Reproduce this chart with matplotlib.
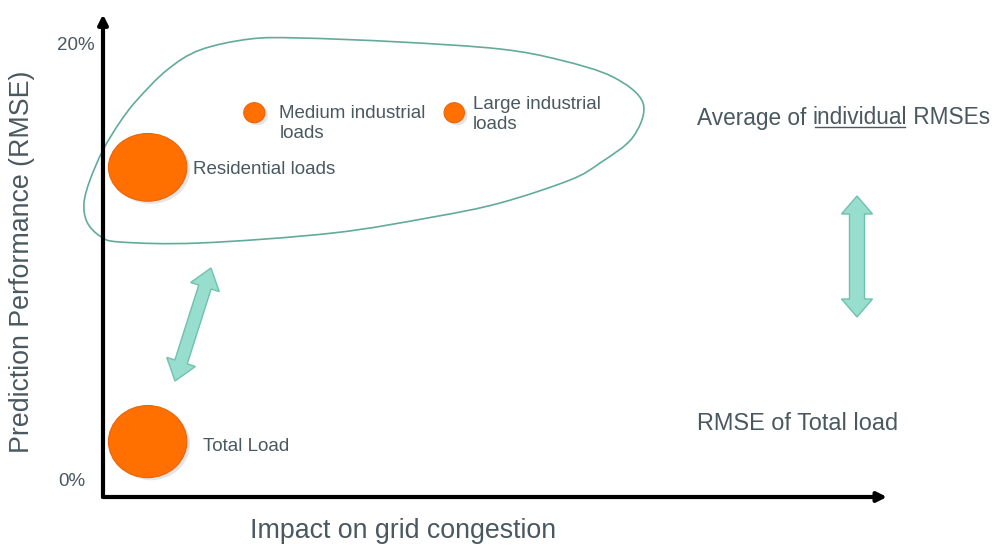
import numpy as np
import matplotlib
matplotlib.use('Agg')
import matplotlib.pyplot as plt
import matplotlib.transforms as mtransforms
from matplotlib.patches import Ellipse, Polygon, PathPatch
from matplotlib.path import Path

plt.rcParams['font.family'] = ['Liberation Sans', 'DejaVu Sans']

# bubbles: impact on grid congestion (arbitrary units 0..10) vs RMSE (%)
loads = ['Residential loads', 'Medium industrial\nloads', 'Large industrial\nloads', 'Total Load']
impact = [0.57, 1.93, 4.48, 0.57]
rmse = [14.4, 16.9, 16.9, 1.85]
y_ticks = [0, 20]
y_tick_labels = ['0%', '20%']

# styling (bubble size in axis units, label offsets in pixels)
bub_w = [1.0, 0.27, 0.26, 1.0]
bub_h = [3.1, 0.92, 0.92, 3.3]
lab_off = [(45, -2), (25, -11), (19, -2), (55, -5)]

TXT = '#4a5860'
ORANGE = '#ff7000'
TEAL = '#98dece'
TEAL_EDGE = '#70c0ae'

W, H = 1005, 548
fig = plt.figure(figsize=(W / 100, H / 100), dpi=100)
ax = fig.add_axes([0, 0, 1, 1])
# pixel origin at (103, 482), 78.4 px per impact unit, 21.85 px per %
ax.set_xlim(-103 / 78.4, (W - 103) / 78.4)
ax.set_ylim((482 - H) / 21.85, 482 / 21.85)
ax.axis('off')

# transform for annotation shapes placed in pixels, top-left origin
px = mtransforms.Affine2D().scale(1 / W, -1 / H).translate(0, 1) + fig.transFigure

# axes arrows
y_axis = -15 / 21.85
ax.annotate('', xy=(0, 21.4), xytext=(0, y_axis),
            arrowprops=dict(arrowstyle='-|>', lw=3, color='black', mutation_scale=14,
                            shrinkA=0, shrinkB=0))
ax.annotate('', xy=(10, y_axis), xytext=(0, y_axis),
            arrowprops=dict(arrowstyle='-|>', lw=3, color='black', mutation_scale=14,
                            shrinkA=0, shrinkB=0))

for v, lab in zip(y_ticks, y_tick_labels):
    ax.annotate(lab, xy=(0, v), xytext=(-8 - (10 if v == 0 else 0), 0),
                textcoords='offset pixels', ha='right', va='center', fontsize=13.5, color=TXT)

ax.text(22 / W, 1 - 262 / H, 'Prediction Performance (RMSE)', transform=fig.transFigure,
        rotation=90, ha='center', va='center', fontsize=19.3, color=TXT)
ax.text(403 / W, 1 - 531 / H, 'Impact on grid congestion', transform=fig.transFigure,
        ha='center', va='center', fontsize=19.3, color=TXT)

# bubbles
for name, x, y, w, h, off in zip(loads, impact, rmse, bub_w, bub_h, lab_off):
    ax.add_patch(Ellipse((x + 0.04, y - 0.12), w, h, color='#999999', alpha=0.25, lw=0))
    ax.add_patch(Ellipse((x, y), w, h, facecolor=ORANGE, edgecolor='#e8650e', lw=0.8))
    ax.annotate(name, xy=(x, y), xytext=off, textcoords='offset pixels',
                ha='left', va='center', fontsize=13.5, color=TXT, linespacing=1.25)

# blob around individual loads
blob = np.array([(84, 203), (90, 180), (103, 150), (120, 122), (137, 100), (167, 70),
                 (200, 50), (250, 39), (300, 38), (400, 42), (500, 49), (560, 60),
                 (613, 77), (643, 103), (633, 137), (600, 163), (570, 180), (500, 203),
                 (433, 217), (333, 233), (200, 243), (120, 242), (100, 236), (87, 222)],
                dtype=float)
n = len(blob)
verts = [blob[0]]
codes = [Path.MOVETO]
for i in range(n):
    p0, p1, p2, p3 = blob[i - 1], blob[i], blob[(i + 1) % n], blob[(i + 2) % n]
    verts += [p1 + (p2 - p0) / 6, p2 - (p3 - p1) / 6, p2]
    codes += [Path.CURVE4] * 3
ax.add_patch(PathPatch(Path(verts, codes), facecolor='none', edgecolor='#62ab9b',
                       lw=1.2, transform=px))


def double_arrow(p0, p1, shaft, head_w, head_l):
    p0, p1 = np.array(p0, float), np.array(p1, float)
    d = (p1 - p0) / np.linalg.norm(p1 - p0)
    nrm = np.array([-d[1], d[0]])
    a, b = p0 + d * head_l, p1 - d * head_l
    return [p0, a + nrm * head_w / 2, a + nrm * shaft / 2, b + nrm * shaft / 2,
            b + nrm * head_w / 2, p1, b - nrm * head_w / 2, b - nrm * shaft / 2,
            a - nrm * shaft / 2, a - nrm * head_w / 2]


for p0, p1, sw, hw, hl in [((175, 381), (211, 268), 13, 30, 20),
                           ((857, 317), (857, 196), 15, 31, 18)]:
    ax.add_patch(Polygon(double_arrow(p0, p1, sw, hw, hl), closed=True,
                         facecolor=TEAL, edgecolor=TEAL_EDGE, lw=1, transform=px))

# right-hand texts
t1 = ax.text(697 / W, 1 - 118 / H, 'Average of ', transform=fig.transFigure,
             ha='left', va='center', fontsize=16.3, color=TXT)
t2 = ax.annotate('individual', xy=(1, 0), xycoords=t1, ha='left', va='bottom',
                 fontsize=16.3, color=TXT)
t3 = ax.annotate(' RMSEs', xy=(1, 0), xycoords=t2, ha='left', va='bottom',
                 fontsize=16.3, color=TXT)
ax.text(697 / W, 1 - 423 / H, 'RMSE of Total load', transform=fig.transFigure,
        ha='left', va='center', fontsize=16.9, color=TXT)

fig.canvas.draw()
bb = t2.get_window_extent()
fig.add_artist(plt.Line2D([bb.x0 + 2, bb.x1 - 2], [bb.y0 + 3, bb.y0 + 3],
                          transform=None, color=TXT, lw=1))

fig.savefig('out.png', dpi=100, facecolor='white')
